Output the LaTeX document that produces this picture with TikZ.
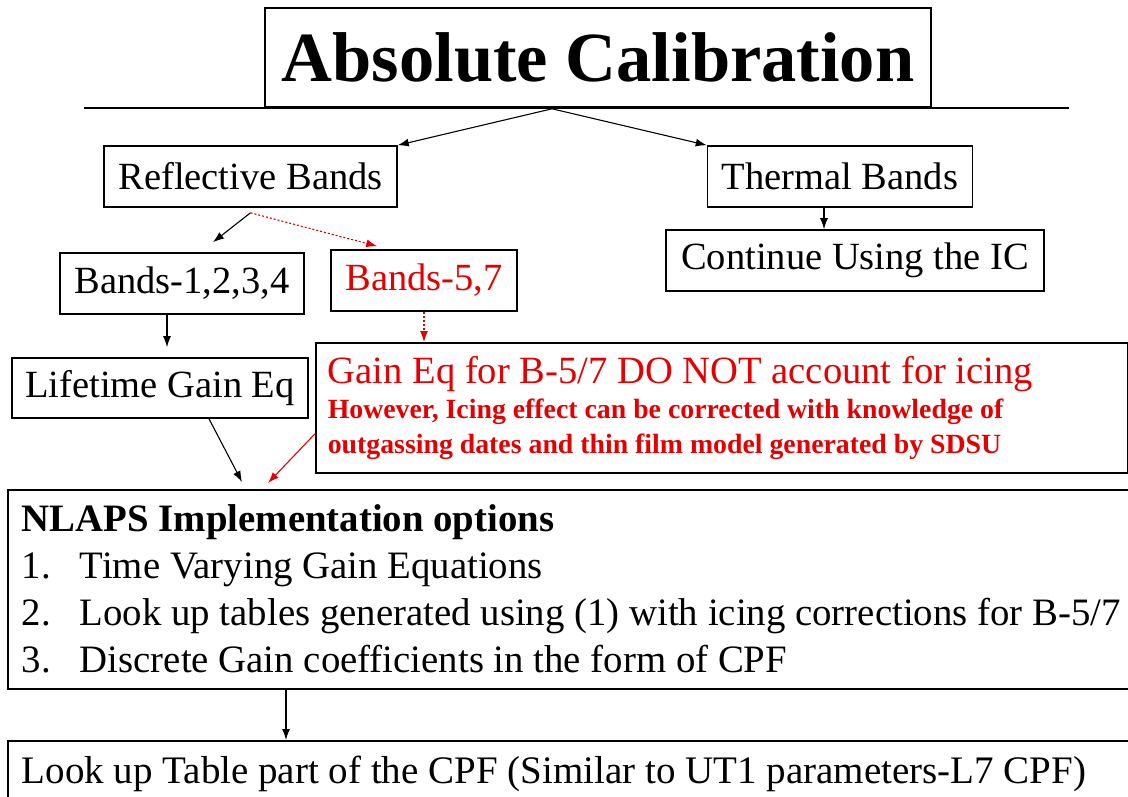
\documentclass[tikz,border=0pt]{standalone}
\usepackage{fontspec}
\setmainfont{Liberation Serif}
\usepackage{xcolor}
\usetikzlibrary{arrows.meta}
\definecolor{icered}{RGB}{228,0,0}

\begin{document}
\begin{tikzpicture}[x=1pt, y=-1pt,
  box/.style={draw, line width=1.6pt, inner sep=0pt, font=\fontsize{38.5}{47}\selectfont},
  link/.style={-{Latex[length=11pt,width=8pt]}, line width=1.1pt},
  redlink/.style={link, icered},
  reddots/.style={redlink, dash pattern=on 2pt off 2pt}]
\useasboundingbox (0,0) rectangle (1128,797);
\node[box, font=\fontsize{70.5}{84}\selectfont\bfseries, minimum width=666pt, minimum height=99pt] (title) at (598,57.5) {Absolute Calibration};
\node[box, minimum width=293pt, minimum height=61pt] (refl) at (250.5,176.5) {Reflective Bands};
\node[box, minimum width=265pt, minimum height=61pt] (therm) at (840,176.5) {Thermal Bands};
\node[box, minimum width=378pt, minimum height=61pt] (cont) at (855,260.5) {Continue Using the IC};
\node[box, minimum width=244pt, minimum height=61pt] (b1234) at (182,283.5) {Bands-1,2,3,4};
\node[box, minimum width=186pt, minimum height=61pt, text=icered] (b57) at (424,280.5) {Bands-5,7};
\node[box, minimum width=296pt, minimum height=60pt] (life) at (160,388) {Lifetime Gain Eq};
\node[box, anchor=north west, text width=788pt, inner xsep=12pt, minimum height=130pt, align=flush left, text=icered,
  font=\fontsize{27.8}{35}\selectfont\bfseries] (gain) at (315,342)
  {{\fontsize{38.6}{35}\selectfont\mdseries Gain Eq for B-5/7 DO NOT account for icing}\\
   However, Icing effect can be corrected with knowledge of\\
   outgassing dates and thin film model generated by SDSU};
\node[box, anchor=north west, text width=1110pt, inner xsep=14pt, minimum height=199pt, align=flush left,
  font=\fontsize{38.8}{47}\selectfont] (nlaps) at (7,489)
  {\textbf{NLAPS Implementation options}\\
   \makebox[58pt][l]{1.}Time Varying Gain Equations\\
   \makebox[58pt][l]{2.}Look up tables generated using (1) with icing corrections for B-5/7\\
   \makebox[58pt][l]{3.}Discrete Gain coefficients in the form of CPF};
\node[box, anchor=north west, text width=1110pt, inner xsep=14pt, minimum height=66pt, align=flush left,
  font=\fontsize{39}{47}\selectfont] (cpf) at (7,740)
  {Look up Table part of the CPF (Similar to UT1 parameters-L7 CPF)};
\draw[line width=1.6pt] ([xshift=-180pt]title.south west) -- ([xshift=137pt]title.south east);
\coordinate (fork) at ([xshift=-46pt,yshift=-1pt]title.south);
\draw[link] (fork) -- (refl.north east);
\draw[link] (fork) -- (therm.north west);
\coordinate (split) at ([yshift=-5pt]refl.south);
\draw[link] (split) -- ([xshift=31pt,yshift=10pt]b1234.north);
\draw[reddots] (split) -- ([xshift=47pt,yshift=3pt]b57.north west);
\draw[link] ([xshift=-16pt]therm.south) -- ([xshift=-16pt]therm.south |- cont.north);
\draw[link, shorten >=10pt] ([xshift=-15pt]b1234.south) -- ([xshift=-15pt]b1234.south |- life.north);
\draw[reddots] (b57.south) -- (b57.south |- gain.north);
\draw[link] ([xshift=49pt]life.south) -- ([xshift=235pt,yshift=7pt]nlaps.north west);
\draw[redlink] ([yshift=-26pt]gain.west) -- ([xshift=261pt,yshift=6pt]nlaps.north west);
\draw[link] ([xshift=279pt]nlaps.south west) -- ([xshift=279pt]cpf.north west);
\end{tikzpicture}
\end{document}
